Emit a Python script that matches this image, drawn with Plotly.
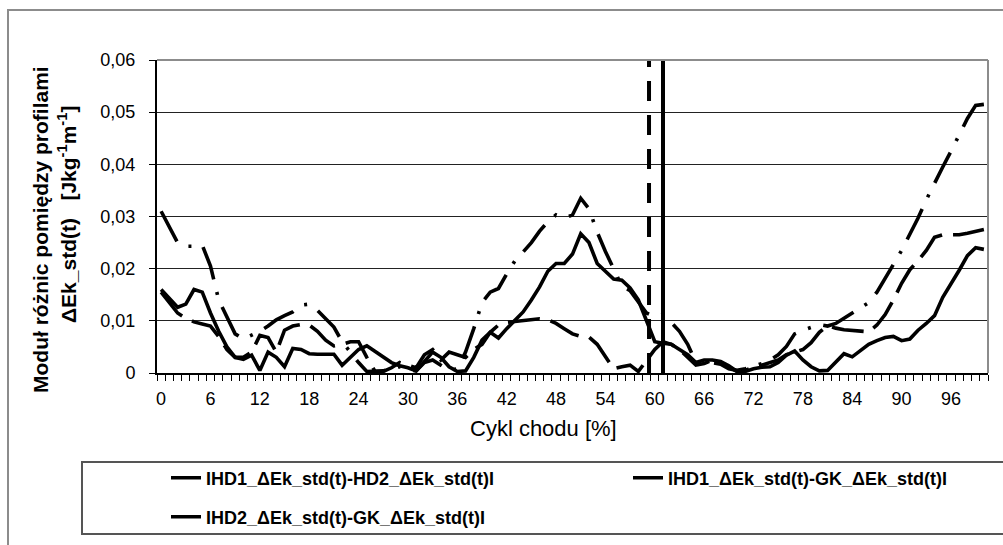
import plotly.graph_objects as go

# ---------------- data ----------------
cycle_pct = list(range(101))

ihd1_hd2 = [
    0.0160, 0.0142, 0.0126, 0.0132, 0.0160, 0.0155, 0.0115, 0.0080, 0.0050, 0.0030,
    0.0026, 0.0034, 0.0005, 0.0040, 0.0030, 0.0012, 0.0047, 0.0045, 0.0037, 0.0036,
    0.0036, 0.0036, 0.0015, 0.0030, 0.0045, 0.0052, 0.0042, 0.0030, 0.0020, 0.0014,
    0.0010, 0.0004, 0.0022, 0.0040, 0.0030, 0.0012, 0.0003, 0.0004, 0.0030, 0.0063,
    0.0078, 0.0067, 0.0085, 0.0100, 0.0117, 0.0140, 0.0165, 0.0195, 0.0210, 0.0210,
    0.0228, 0.0267, 0.0250, 0.0210, 0.0195, 0.0180, 0.0178, 0.0163, 0.0140, 0.0100,
    0.0060, 0.0057, 0.0055, 0.0045, 0.0035, 0.0020, 0.0025, 0.0025, 0.0022, 0.0014,
    0.0003, 0.0003, 0.0008, 0.0011, 0.0012, 0.0020, 0.0034, 0.0042, 0.0025, 0.0012,
    0.0004, 0.0005, 0.0022, 0.0037, 0.0031, 0.0042, 0.0055, 0.0062, 0.0068, 0.0070,
    0.0062, 0.0065, 0.0082, 0.0095, 0.0110, 0.0145, 0.0170, 0.0197, 0.0225, 0.0240,
    0.0237,
]

ihd1_gk = [
    0.0155, 0.0135, 0.0115, 0.0105, 0.0098, 0.0094, 0.0090, 0.0070, 0.0045, 0.0030,
    0.0030, 0.0040, 0.0072, 0.0068, 0.0040, 0.0082, 0.0090, 0.0093, 0.0092, 0.0080,
    0.0063, 0.0052, 0.0055, 0.0060, 0.0060, 0.0030, 0.0003, 0.0003, 0.0010, 0.0020,
    0.0015, 0.0010, 0.0035, 0.0045, 0.0025, 0.0040, 0.0035, 0.0030, 0.0045, 0.0055,
    0.0078, 0.0092, 0.0097, 0.0099, 0.0101, 0.0103, 0.0104, 0.0102, 0.0095, 0.0085,
    0.0075, 0.0070, 0.0069, 0.0055, 0.0030, 0.0008, 0.0012, 0.0015, 0.0003, 0.0025,
    0.0045, 0.0060, 0.0055, 0.0045, 0.0030, 0.0015, 0.0018, 0.0025, 0.0020, 0.0012,
    0.0003, 0.0005, 0.0012, 0.0015, 0.0020, 0.0025, 0.0035, 0.0040, 0.0045, 0.0058,
    0.0078, 0.0091, 0.0086, 0.0083, 0.0082, 0.0080, 0.0079, 0.0092, 0.0112, 0.0140,
    0.0172, 0.0198, 0.0215, 0.0235, 0.0260, 0.0265, 0.0265, 0.0265, 0.0268, 0.0272,
    0.0275,
]

ihd2_gk = [
    0.0310, 0.0280, 0.0250, 0.0243, 0.0243, 0.0245, 0.0205, 0.0140, 0.0108, 0.0075,
    0.0065, 0.0072, 0.0080, 0.0090, 0.0102, 0.0110, 0.0117, 0.0130, 0.0132, 0.0120,
    0.0103, 0.0088, 0.0060, 0.0040, 0.0020, 0.0003, 0.0003, 0.0004, 0.0009, 0.0012,
    0.0006, 0.0004, 0.0020, 0.0025, 0.0015, 0.0005, 0.0008, 0.0040, 0.0085, 0.0135,
    0.0155, 0.0162, 0.0190, 0.0215, 0.0232, 0.0250, 0.0272, 0.0290, 0.0303, 0.0297,
    0.0303, 0.0335, 0.0315, 0.0270, 0.0233, 0.0198, 0.0166, 0.0158, 0.0135, 0.0115,
    0.0108, 0.0112, 0.0097, 0.0080, 0.0055, 0.0020, 0.0022, 0.0020, 0.0017, 0.0008,
    0.0005, 0.0008, 0.0013, 0.0018, 0.0025, 0.0035, 0.0051, 0.0075, 0.0082, 0.0088,
    0.0093, 0.0090, 0.0095, 0.0105, 0.0115, 0.0123, 0.0135, 0.0155, 0.0180, 0.0208,
    0.0235, 0.0265, 0.0297, 0.0332, 0.0365, 0.0395, 0.0425, 0.0455, 0.0488, 0.0513,
    0.0515,
]

series_names = [
    "IHD1_ΔEk_std(t)-HD2_ΔEk_std(t)I",
    "IHD1_ΔEk_std(t)-GK_ΔEk_std(t)I",
    "IHD2_ΔEk_std(t)-GK_ΔEk_std(t)I",
]

x_tick_vals = list(range(0, 97, 6))
x_tick_text = [str(v) for v in x_tick_vals]
y_tick_vals = [0, 0.01, 0.02, 0.03, 0.04, 0.05, 0.06]
y_tick_text = ["0", "0,01", "0,02", "0,03", "0,04", "0,05", "0,06"]
y_range = [0, 0.06]

x_title = "Cykl chodu [%]"
y_title_line1 = "Moduł różnic pomiędzy profilami"
y_title_line2 = "ΔEk_std(t)\u00a0\u00a0\u00a0[Jkg<sup>-1</sup>m<sup>-1</sup>]"

toe_off_gk = 59.3   # dashed vertical marker
toe_off_hd = 61.0   # solid vertical marker

# ---------------- layout geometry ----------------
W, H = 1003, 545
ML, MR, MT, MB = 157, 15, 60, 172
PW, PH = W - ML - MR, H - MT - MB


def px_x(p):
    return (p - ML) / PW


def px_y(p):
    return (H - MB - p) / PH


FONT = "Liberation Sans, Arial, sans-serif"
LW = 3.6

fig = go.Figure()

fig.add_trace(go.Scatter(
    x=cycle_pct, y=ihd1_hd2, mode="lines", name=series_names[0],
    line=dict(color="black", width=LW), legend="legend"))
fig.add_trace(go.Scatter(
    x=cycle_pct, y=ihd1_gk, mode="lines", name=series_names[1],
    line=dict(color="black", width=LW, dash="32px,11px"), legend="legend2"))
fig.add_trace(go.Scatter(
    x=cycle_pct, y=ihd2_gk, mode="lines", name=series_names[2],
    line=dict(color="black", width=LW, dash="34px,13px,3px,13px"), legend="legend3"))

# vertical markers
fig.add_trace(go.Scatter(
    x=[toe_off_gk, toe_off_gk], y=y_range, mode="lines", showlegend=False,
    line=dict(color="black", width=4, dash="20px,14px"), hoverinfo="skip"))
fig.add_trace(go.Scatter(
    x=[toe_off_hd, toe_off_hd], y=y_range, mode="lines", showlegend=False,
    line=dict(color="black", width=4), hoverinfo="skip", cliponaxis=False))

legend_common = dict(
    bgcolor="rgba(0,0,0,0)", borderwidth=0,
    font=dict(family=FONT, size=18, color="black", weight="bold"),
    xanchor="left", yanchor="middle", orientation="h",
)

fig.update_layout(
    width=W, height=H,
    margin=dict(l=ML, r=MR, t=MT, b=MB, autoexpand=False),
    paper_bgcolor="white", plot_bgcolor="white",
    separators=", ",
    font=dict(family=FONT, size=18, color="black"),
    legend=dict(**legend_common, x=px_x(166), y=px_y(478)),
    legend2=dict(**legend_common, x=px_x(628), y=px_y(478)),
    legend3=dict(**legend_common, x=px_x(166), y=px_y(517)),
    xaxis=dict(
        range=[-0.5, 100.5], showgrid=False, zeroline=False,
        showline=True, linecolor="black", linewidth=2,
        tickmode="array", tickvals=x_tick_vals, ticktext=x_tick_text,
        ticks="", ticklabelstandoff=8,
        tickfont=dict(family=FONT, size=18, color="black"),
        minor=dict(tick0=-0.5, dtick=1, ticks="outside", ticklen=6,
                   tickwidth=1, tickcolor="black", showgrid=False),
    ),
    yaxis=dict(
        range=y_range, zeroline=False,
        showline=True, linecolor="black", linewidth=2,
        showgrid=True, gridcolor="#222222", gridwidth=1,
        tickmode="array", tickvals=y_tick_vals, ticktext=y_tick_text,
        ticks="outside", ticklen=6, tickcolor="black", tickwidth=1,
        ticklabelstandoff=10,
        tickfont=dict(family=FONT, size=18, color="black"),
    ),
    shapes=[
        # outer chart border (extends past the page)
        dict(type="rect", xref="paper", yref="paper",
             x0=px_x(8), x1=px_x(1030), y0=px_y(570), y1=px_y(10),
             line=dict(color="#8c8c8c", width=2), layer="below"),
        # plot area border top & right
        dict(type="line", xref="paper", yref="paper", x0=0, x1=1, y0=1, y1=1,
             line=dict(color="#8c8c8c", width=2)),
        dict(type="line", xref="paper", yref="paper", x0=1, x1=1, y0=0, y1=1,
             line=dict(color="#8c8c8c", width=2)),
        # legend box
        dict(type="rect", xref="paper", yref="paper",
             x0=px_x(82), x1=px_x(1020), y0=px_y(534), y1=px_y(462),
             line=dict(color="#555555", width=2)),
    ],
    annotations=[
        dict(text=x_title, xref="paper", yref="paper",
             x=px_x(543), y=px_y(428), xanchor="center", yanchor="middle",
             showarrow=False, font=dict(family=FONT, size=22, color="black")),
        dict(text="<b>" + y_title_line1 + "</b>",
             xref="paper", yref="paper", x=px_x(41), y=px_y(230),
             xanchor="center", yanchor="middle", textangle=-90,
             showarrow=False, font=dict(family=FONT, size=21, color="black")),
        dict(text="<b>" + y_title_line2 + "</b>",
             xref="paper", yref="paper", x=px_x(67), y=px_y(215),
             xanchor="center", yanchor="middle", textangle=-90,
             showarrow=False, font=dict(family=FONT, size=21, color="black")),
    ],
)

fig.write_html("out.html")
